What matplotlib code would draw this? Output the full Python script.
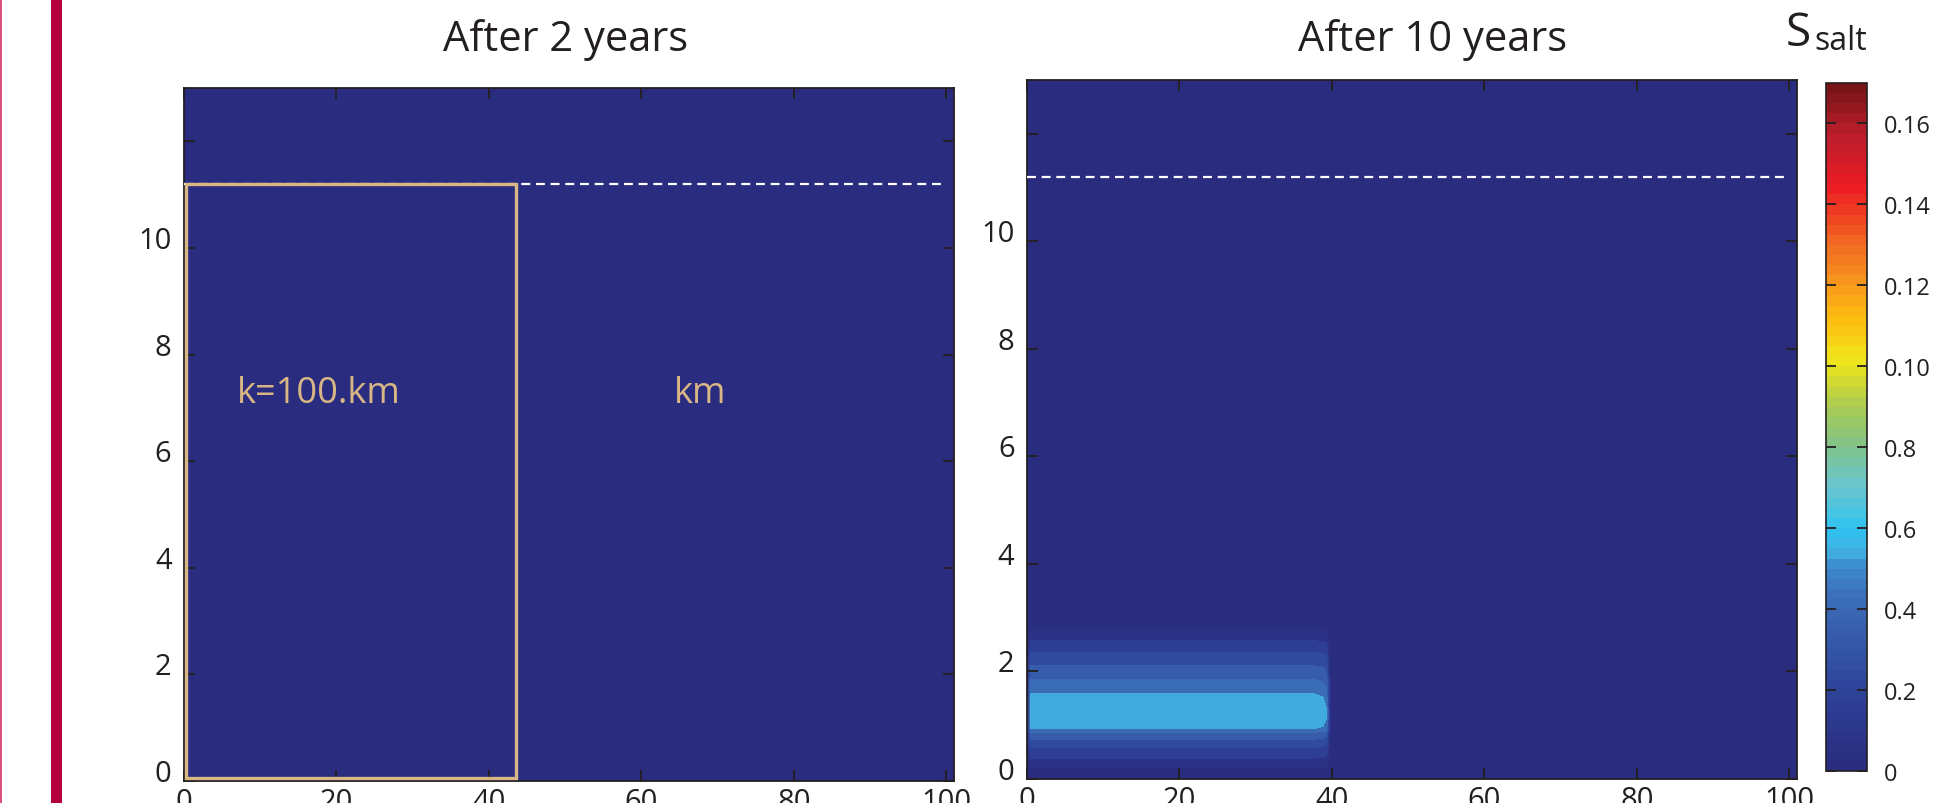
import numpy as np
import matplotlib
matplotlib.use("Agg")
import matplotlib.pyplot as plt
from matplotlib.colors import LinearSegmentedColormap, ListedColormap, Normalize
from matplotlib.cm import ScalarMappable
from matplotlib.patches import Rectangle
from matplotlib.transforms import ScaledTranslation

plt.rcParams['font.family'] = ['Open Sans', 'DejaVu Sans']

# axis ticks
panel_titles = ["After 2 years", "After 10 years"]
x_ticks = [0, 20, 40, 60, 80, 100]
y_ticks = [0, 2, 4, 6, 8, 10, 12]
y_tick_labels = ["0", "2", "4", "6", "8", "10", ""]

# colour scale (labels kept as printed on the original)
cbar_ticks = [0, 0.02, 0.04, 0.06, 0.08, 0.10, 0.12, 0.14, 0.16]
cbar_labels = ["0", "0.2", "0.4", "0.6", "0.8", "0.10", "0.12", "0.14", "0.16"]
cmap_stops = [0.0, 0.02, 0.04, 0.05, 0.054, 0.059, 0.07, 0.08, 0.09, 0.102, 0.112, 0.122, 0.132, 0.145, 0.158, 0.17]
cmap_colors = ['#2A2C7F', '#2F459B', '#3A69B3', '#3D8BCB', '#42B0E3', '#2EC3F0', '#6AC5CF', '#80C38A',
               '#A9CB52', '#F2E51B', '#FDBE12', '#F7941D', '#F26522', '#ED1C24', '#BE1E2D', '#7A1517']

# salt after 10 years: vertical profile (km) and lateral extent (km)
depth_nodes = [0.0, 0.15, 0.22, 0.39, 0.59, 0.74, 0.87, 0.93, 1.2, 1.59, 1.85, 2.11, 2.35, 2.57, 2.80, 2.95, 13.0]
salt_profile = [0.0, 0.0, 0.003, 0.0115, 0.02, 0.0285, 0.037, 0.0455, 0.054, 0.0455, 0.037, 0.0285,
                0.02, 0.0115, 0.003, 0.0, 0.0]
dist_nodes = [0.0, 0.5, 37.5, 38.8, 39.3, 39.8, 101.0]
lateral_factor = [0.0, 1.0, 1.0, 0.97, 0.88, 0.0, 0.0]
salt_levels = [0.003, 0.0115, 0.02, 0.0285, 0.037, 0.0455, 0.063]

water_table = 11.2
zone_width = 43.3
label_depth = 7.27

navy = '#2A2C7F'
tan = '#D9B784'
ink = '#231F20'

base = LinearSegmentedColormap.from_list(
    'salt', list(zip(np.array(cmap_stops) / cmap_stops[-1], cmap_colors)))
cmap = ListedColormap(base(np.linspace(0, 1, 68)))
norm = Normalize(0, cmap_stops[-1])

fig = plt.figure(figsize=(19.37, 8.04), dpi=100)
W, H = 1937, 804

# side bars
fig.add_artist(Rectangle((0, 0), 2 / W, 1, transform=fig.transFigure, color='#D9537E', lw=0))
fig.add_artist(Rectangle((51 / W, 0), 11 / W, 1, transform=fig.transFigure, color='#B4003A', lw=0))

ax1 = fig.add_axes([184 / W, 22 / H, 770 / W, 693 / H])
ax2 = fig.add_axes([1027 / W, 24 / H, 770 / W, 699 / H])
cax = fig.add_axes([1826 / W, 32 / H, 41 / W, 688 / H])

Z = np.outer(salt_profile, lateral_factor)
ax2.contourf(dist_nodes, depth_nodes, Z, levels=salt_levels, cmap=cmap, norm=norm)

offset = ScaledTranslation(0, 11 / 100, fig.dpi_scale_trans)
for ax in (ax1, ax2):
    ax.set_facecolor(navy)
    ax.set_xlim(0, 101)
    ax.set_ylim(0, 13)
    ax.set_xticks(x_ticks)
    ax.set_yticks(y_ticks)
    ax.set_yticklabels(y_tick_labels)
    ax.tick_params(direction='in', length=8, width=1.3, colors=ink, labelsize=21,
                   top=True, right=True, pad=9)
    ax.tick_params(axis='x', pad=4)
    for s in ax.spines.values():
        s.set_color(ink)
        s.set_linewidth(1.3)
    for lab in ax.get_yticklabels():
        lab.set_transform(lab.get_transform() + offset)
    ax.hlines(water_table, 0, 99.5, colors='white', linestyles=(0, (4, 2.6)), lw=1.6, zorder=3)

ax1.add_patch(Rectangle((0.2, 0.05), zone_width, water_table - 0.05, fill=False,
                        edgecolor=tan, lw=2.4, zorder=4, clip_on=False))
ax1.text(17.7, label_depth, 'k=100.km', color=tan, fontsize=26, ha='center', va='center')
ax1.text(67.7, label_depth, 'km', color=tan, fontsize=26, ha='center', va='center')

fig.text(566 / W, 1 - 40 / H, panel_titles[0], fontsize=30, color=ink, ha='center', va='center')
fig.text(1433 / W, 1 - 40 / H, panel_titles[1], fontsize=30, color=ink, ha='center', va='center')

cb = fig.colorbar(ScalarMappable(norm=norm, cmap=cmap), cax=cax)
cb.set_ticks(cbar_ticks)
cb.set_ticklabels(cbar_labels)
cb.outline.set_edgecolor(ink)
cb.outline.set_linewidth(1.2)
cax.tick_params(direction='in', length=7, width=1.3, colors=ink, labelsize=17,
                left=True, right=True, pad=12)

fig.text(1786 / W, 1 - 34 / H, 'S', fontsize=33, color=ink, ha='left', va='center')
fig.text(1814 / W, 1 - 42 / H, 'salt', fontsize=23, color=ink, ha='left', va='center')

fig.savefig('out.png', dpi=100)
